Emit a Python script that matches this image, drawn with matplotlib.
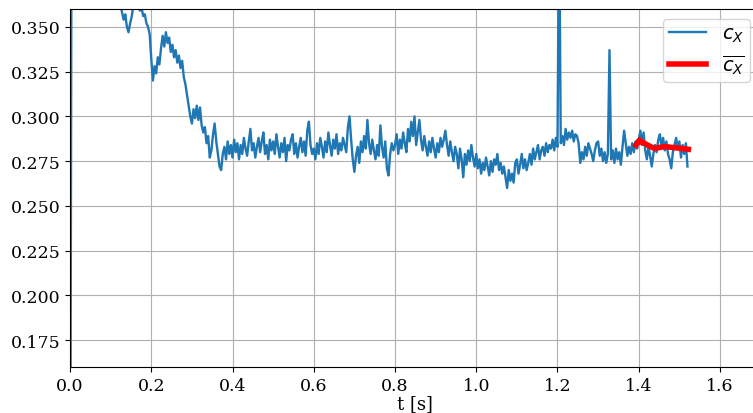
import numpy as np
import matplotlib
matplotlib.use("Agg")
import matplotlib.pyplot as plt

# ----- Data (values in 1e-3) -----
dt = 0.004  # sample spacing [s]

cx_milli = [
    # t 0.0 - 0.096
    0, 450, 440, 430, 425, 415, 420, 410, 405, 400, 405, 395, 398, 390, 392, 385, 388, 380, 384, 378, 382, 375, 379, 372, 376,
    # t 0.1 - 0.196
    370, 374, 368, 372, 366, 369, 364, 358, 354, 357, 350, 347, 352, 356, 362, 366, 368, 364, 359, 361, 356, 357, 352, 350, 346,
    # t 0.2 - 0.296
    332, 320, 328, 324, 333, 329, 338, 345, 339, 347, 341, 344, 336, 340, 333, 337, 330, 334, 327, 331, 322, 318, 312, 306, 300,
    # t 0.3 - 0.396
    296, 304, 299, 306, 298, 305, 295, 291, 294, 285, 289, 277, 281, 290, 296, 286, 279, 272, 270, 279, 283, 276, 286, 279, 284,
    # t 0.4 - 0.496
    277, 287, 280, 285, 276, 284, 279, 288, 282, 278, 286, 293, 281, 285, 277, 283, 288, 280, 286, 291, 279, 284, 276, 287, 281,
    # t 0.5 - 0.596
    286, 279, 290, 283, 277, 285, 280, 288, 275, 284, 281, 287, 290, 279, 285, 277, 283, 288, 280, 286, 278, 292, 297, 284, 279,
    # t 0.6 - 0.696
    282, 276, 285, 279, 288, 283, 277, 286, 280, 291, 284, 278, 287, 282, 290, 279, 285, 281, 288, 284, 280, 294, 300, 287, 276,
    # t 0.7 - 0.796
    269, 278, 283, 274, 286, 280, 289, 282, 298, 285, 279, 287, 281, 276, 284, 278, 295, 283, 277, 286, 271, 267, 279, 285, 281,
    # t 0.8 - 0.896
    284, 290, 279, 287, 282, 291, 285, 280, 293, 286, 297, 289, 300, 284, 291, 298, 287, 281, 289, 283, 278, 286, 280, 288, 282,
    # t 0.9 - 0.996
    277, 285, 280, 288, 283, 287, 292, 284, 278, 286, 280, 275, 283, 279, 271, 282, 276, 266, 279, 273, 281, 275, 284, 277, 272,
    # t 1.0 - 1.096
    279, 271, 276, 268, 274, 270, 277, 272, 267, 275, 269, 276, 273, 279, 270, 274, 268, 272, 266, 260, 270, 264, 268, 263, 274,
    # t 1.1 - 1.196
    276, 268, 273, 279, 271, 276, 270, 274, 279, 273, 282, 276, 280, 284, 276, 281, 283, 278, 285, 280, 284, 282, 287, 281, 288,
    # t 1.2 - 1.296
    283, 420, 285, 289, 284, 293, 287, 291, 288, 292, 286, 290, 289, 285, 274, 280, 276, 283, 278, 285, 282, 279, 275, 281, 285,
    # t 1.3 - 1.396
    286, 278, 282, 275, 280, 274, 279, 337, 276, 281, 274, 282, 276, 280, 273, 283, 292, 285, 278, 283, 279, 285, 280, 286, 282,
    # t 1.4 - 1.496
    287, 292, 284, 291, 281, 276, 283, 278, 272, 279, 284, 280, 287, 290, 283, 288, 281, 286, 279, 276, 271, 280, 284, 288, 282,
    # t 1.5 - 1.52
    286, 277, 284, 279, 285, 272,
]

# running mean shown in red
t_mean = [1.393, 1.398, 1.402, 1.406, 1.412, 1.42, 1.43, 1.44, 1.45, 1.46, 1.47, 1.48, 1.49, 1.50, 1.51, 1.522]
cx_mean_milli = [284.0, 285.6, 286.8, 285.6, 285.2, 284.2, 283.0, 282.0, 282.6, 283.0, 283.0, 282.7, 282.5, 282.2, 282.0, 281.6]

cx = np.array(cx_milli) / 1000.0
t = np.arange(len(cx)) * dt
cx_mean = np.array(cx_mean_milli) / 1000.0

# ----- Plot -----
plt.rcParams['font.family'] = 'serif'
plt.rcParams['font.serif'] = ['DejaVu Serif']
plt.rcParams['mathtext.fontset'] = 'dejavusans'

fig = plt.figure(figsize=(7.53, 4.14), dpi=100)
# axes run slightly past the right edge of the figure, as in the reference
ax = fig.add_axes([0.093, 0.111, 0.9163, 0.865])

ax.plot(t, cx, color='#1f77b4', linewidth=1.7, label=r'$c_X$')
ax.plot(t_mean, cx_mean, color='red', linewidth=4, label=r'$\overline{c_X}$')

ax.set_xlim(0, 1.6985)
ax.set_ylim(0.16, 0.36)
ax.set_xticks(np.arange(0, 1.61, 0.2))
ax.set_yticks(np.arange(0.175, 0.351, 0.025))
ax.yaxis.set_major_formatter(matplotlib.ticker.FormatStrFormatter('%.3f'))
ax.xaxis.set_major_formatter(matplotlib.ticker.FormatStrFormatter('%.1f'))
ax.tick_params(labelsize=12.5)
ax.set_xlabel("t [s]", fontsize=13, labelpad=0)
ax.grid(True)
ax.legend(loc='upper right', fontsize=14, handlelength=1.9, borderpad=0.3,
          labelspacing=0.45)

fig.savefig("out.png", dpi=100)
